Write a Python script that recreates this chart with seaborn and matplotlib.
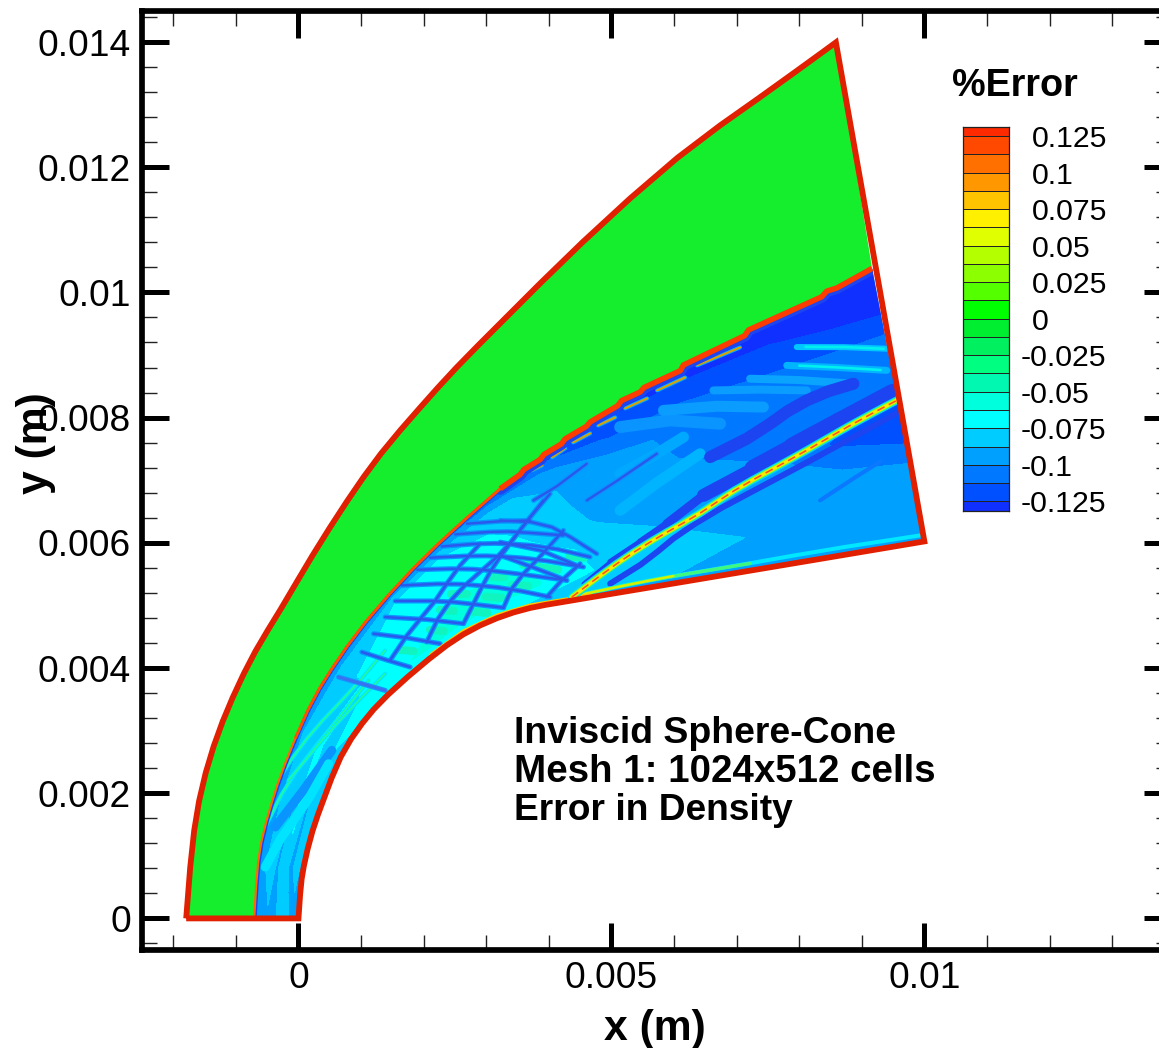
import numpy as np
import matplotlib
matplotlib.use("Agg")
import matplotlib.pyplot as plt
import seaborn as sns
from matplotlib.colors import ListedColormap, BoundaryNorm
from matplotlib.patches import Polygon
from matplotlib.path import Path
from matplotlib.ticker import MultipleLocator

# ---- data (all coordinates in mm; the axes are in m) ----
OUTER_X = [-1.794,-1.730,-1.602,-1.363,-1.059,-0.692,-0.292,0.219,0.778,1.305,1.944,2.503,3.222,4.500,6.097,7.375,8.5,8.586]
OUTER_Y = [0,0.927,1.885,2.764,3.530,4.281,4.920,5.799,6.677,7.428,8.163,8.786,9.505,10.783,12.220,13.115,13.93,13.994]
BODY_X = [0,0.027,0.075,0.219,0.395,0.666,1.017,1.385,2.104,2.631,3.174,3.701,4.2,4.66,5.5,7.0,9.9,10.0]
BODY_Y = [0,0.447,0.815,1.406,1.885,2.604,3.131,3.546,4.169,4.553,4.808,4.968,5.05,5.128,5.268,5.519,6.005,6.022]
SHOCK_NOSE_X = [-0.708,-0.676,-0.612,-0.420,-0.244,0.155,0.506,1.034,1.832,2.631,3.222]
SHOCK_NOSE_Y = [0,0.607,1.198,1.885,2.412,3.371,3.962,4.712,5.607,6.358,6.863]
SHOCK_STEP_X = [3.54,3.60,3.86,3.92,4.20,4.26,4.60,4.66,5.10,5.16,5.46,5.52,6.10,6.15,7.13,7.19,8.36,8.44,8.60,9.164]
SHOCK_STEP_Y = [7.09,7.17,7.33,7.41,7.58,7.66,7.86,7.93,8.19,8.27,8.41,8.48,8.75,8.84,9.31,9.40,9.93,10.02,10.07,10.383]

# mesh stations for the error field behind the shock: body point and shock point
ST_BODY_X = [0,0.075,0.395,0.666,1.385,2.104,2.631,3.174,3.701,4.66,6.0,7.5,8.8,10.0]
ST_BODY_Y = [0,0.815,1.885,2.604,3.546,4.169,4.553,4.808,4.968,5.128,5.352,5.60,5.817,6.022]
ST_SHOCK_X = [-0.708,-0.654,-0.42,-0.05,0.6,1.45,2.2,3.0,3.86,5.03,6.13,7.5,8.445,9.164]
ST_SHOCK_Y = [0,0.815,1.885,3.05,4.1,5.18,5.95,6.66,7.364,8.163,8.834,9.53,10.0,10.383]
ERROR_FIELD = [
 [-0.090,-0.090,-0.085,-0.085,-0.090,-0.090,-0.095,-0.100],
 [-0.090,-0.085,-0.090,-0.080,-0.090,-0.080,-0.090,-0.100],
 [-0.090,-0.080,-0.090,-0.070,-0.090,-0.075,-0.090,-0.105],
 [-0.080,-0.075,-0.085,-0.070,-0.085,-0.080,-0.090,-0.105],
 [-0.075,-0.070,-0.070,-0.075,-0.075,-0.080,-0.085,-0.100],
 [-0.070,-0.060,-0.065,-0.065,-0.070,-0.070,-0.075,-0.100],
 [-0.070,-0.060,-0.060,-0.065,-0.070,-0.070,-0.075,-0.105],
 [-0.075,-0.060,-0.060,-0.065,-0.070,-0.075,-0.080,-0.110],
 [-0.080,-0.060,-0.065,-0.075,-0.080,-0.085,-0.095,-0.120],
 [-0.090,-0.075,-0.080,-0.090,-0.095,-0.095,-0.115,-0.130],
 [-0.090,-0.080,-0.090,-0.095,-0.100,-0.103,-0.115,-0.135],
 [-0.090,-0.090,-0.095,-0.100,-0.103,-0.105,-0.120,-0.135],
 [-0.090,-0.095,-0.095,-0.115,-0.105,-0.105,-0.125,-0.135],
 [-0.095,-0.095,-0.100,-0.125,-0.105,-0.105,-0.130,-0.135],
]
T_LEVELS = [0, 1/7, 2/7, 3/7, 4/7, 5/7, 6/7, 1]

# traced dark wave bands of the cross-hatch
HATCH = [
 ([2.689,3.275,3.701],[6.305,6.358,6.358]),
 ([2.503,3.168,3.541,4.233],[6.135,6.188,6.172,6.119]),
 ([2.290,2.902,3.381,4.074,4.659],[5.943,5.996,5.986,5.932,5.773]),
 ([2.103,2.742,3.275,3.914,4.553],[5.762,5.799,5.783,5.730,5.613]),
 ([1.901,2.529,3.062,3.701,4.287],[5.570,5.597,5.560,5.480,5.400]),
 ([1.651,2.316,2.902,3.488,4.020],[5.320,5.357,5.320,5.251,5.134]),
 ([1.544,2.210,2.742,3.275],[5.070,5.080,5.027,4.963]),
 ([1.385,2.103,2.636],[4.814,4.787,4.708]),
 ([1.198,1.731,2.263],[4.548,4.495,4.388]),
 ([1.012,1.411,1.784],[4.255,4.122,4.015]),
 ([3.222,3.808,4.287,4.766],[6.357,6.357,6.144,5.825]),
 ([3.222,3.914,4.447],[6.011,5.931,5.639]),
 ([3.222,3.754,4.287],[5.799,5.612,5.399]),
 ([3.382,3.914],[5.266,5.159]),
 ([3.967,4.180,4.500],[5.134,5.400,5.666]),
 ([3.275,3.381,3.807,4.020,4.233],[4.963,5.293,5.719,5.959,6.199]),
 ([2.636,2.796,3.062,3.381,3.648,4.020],[4.708,5.027,5.560,5.986,6.358,6.784]),
 ([2.050,2.210,2.636,3.222,3.541,3.914],[4.415,4.814,5.320,5.799,6.199,6.678]),
 ([1.464,1.731,2.210,2.529,2.902],[4.122,4.548,5.080,5.613,5.986]),
 ([3.754,4.074,4.606],[6.677,6.837,7.263]),
 ([4.606,5.032,5.725],[6.677,6.943,7.423]),
 ([4.234,4.606],[6.304,6.464]),
 ([5.086,5.352],[6.304,6.464]),
]
# fainter dashes in the nose region
NOSE_DASHES = [
 ([0.693,1.066],[3.482,3.243]), ([0.906,1.545],[4.200,4.122]),
 ([0.640,1.013,1.385],[3.855,3.749,3.642]), ([0.240,0.400],[3.190,3.083]),
 ([0.000,0.161],[2.900,2.790]),
]
# pale green streaks and cyan / blue sweeps in the nose region
NOSE_GREEN = [
 ([-0.398,-0.106,0.374,0.959,1.385],[2.098,2.577,3.163,3.749,4.281]),
 ([-0.532,-0.265,0.214,0.747,1.119],[1.459,2.045,2.684,3.323,3.802]),
 ([-0.159,0.320,0.906,1.385],[2.205,2.790,3.429,3.909]),
]
NOSE_CYAN_X = [-0.532,-0.265,0.107,0.480]
NOSE_CYAN_Y = [0.820,1.353,1.778,2.471]
NOSE_BLUE_X = [-0.372,0.054,0.533]
NOSE_BLUE_Y = [1.459,1.992,2.684]
# pale cells between the hatch bands
CELLS = [
 ([2.43,2.69],[5.19,5.19]), ([2.99,3.25],[5.14,5.12]), ([3.41,3.67],[5.33,5.31]),
 ([3.89,4.15],[5.60,5.57]), ([4.32,4.57],[5.78,5.76]), ([2.78,3.02],[4.90,4.88]),
 ([2.26,2.48],[4.93,4.91]), ([1.62,1.84],[4.29,4.27]), ([2.10,2.32],[4.61,4.59]),
 ([3.05,3.29],[5.46,5.45]), ([3.58,3.83],[5.65,5.63]),
]
SLIP_X = [4.367,4.819,5.352,5.884,6.417,6.949,7.588,8.121,8.760,9.505,9.57]
SLIP_Y = [5.133,5.479,5.852,6.171,6.464,6.837,7.183,7.476,7.849,8.248,8.28]
DARK_A_X = [4.553,4.979,5.458,5.884,6.470,7.269,7.908,8.653,9.505]
DARK_A_Y = [5.346,5.692,6.011,6.304,6.757,7.183,7.529,7.928,8.381]
DARK_A_W = [4,6,7,9,13,18,20,20]
DARK_UP_X = [6.577,7.269,7.801,8.440,8.866]
DARK_UP_Y = [7.369,7.689,8.115,8.434,8.541]
DARK_B_X = [4.979,5.565,5.938,6.736,7.801,9.558]
DARK_B_Y = [5.346,5.692,6.050,6.560,7.100,8.070]
WALL_X = [4.500,5.246,5.990,7.216,8.542,9.931]
WALL_Y = [5.170,5.330,5.470,5.671,5.911,6.118]
# streaks above the slip line: (x, y, width in pixels, colour)
LENSES = [
 ([5.139,5.938,6.736],[7.849,8.035,7.902],12,"#0a94ff"),
 ([5.831,6.736,7.428],[8.115,8.221,8.168],11,"#0a9cff"),
 ([6.630,7.375,8.121],[8.434,8.461,8.434],8,"#0a9cff"),
 ([7.216,7.908,8.866],[8.621,8.621,8.541],8,"#0aa4ff"),
 ([6.044,6.736],[7.636,7.689],10,"#0a9cff"),
 ([5.139,5.671,6.151],[7.103,7.369,7.689],11,"#00a8ff"),
 ([5.139,5.671,6.417],[6.517,6.943,7.423],11,"#00b4ff"),
 ([5.032,5.458],[6.784,7.316],8,"#00c0ff"),
 ([4.926,5.352],[6.358,6.571],7,"#00c8ff"),
 ([7.801,8.600,9.399],[8.834,8.807,8.754],7,"#00b4ff"),
 ([7.961,8.760,9.399],[9.127,9.137,9.100],6,"#00c8ff"),
 ([7.269,8.227],[6.038,6.624],4,"#00c0ff"),
 ([7.908,8.866],[5.985,6.464],4,"#00c0ff"),
]
LENS_CORES = [
 ([8.0,8.600,9.3],[8.83,8.807,8.76]),
 ([8.1,8.760,9.35],[9.13,9.137,9.10]),
]
BLUE_STREAK_X = [8.334,8.973]
BLUE_STREAK_Y = [6.677,7.103]
SHOCK_DASHES = [
 ([6.368,7.055],[8.834,9.121]), ([5.730,6.177],[8.434,8.642]), ([5.219,5.570],[8.147,8.307]),
 ([4.787,5.059],[7.875,8.003]), ([4.388,4.660],[7.604,7.748]), ([4.052,4.260],[7.364,7.508]),
 ([3.731,3.892],[7.157,7.236]),
]

LEVELS = [-0.125,-0.1125,-0.1,-0.0875,-0.075,-0.0625,-0.05,-0.0375,-0.025,-0.0125,0,
          0.0125,0.025,0.0375,0.05,0.0625,0.075,0.0875,0.1,0.1125,0.125]
BAND_COLORS = ["#1030ff","#0050ff","#0078ff","#00a0ff","#00ccff","#00ffff","#00ffdc","#00f8b0",
               "#00ff80","#00f060","#00ee30","#00ff00","#54ff00","#8cff00","#b4ff00","#e0ff00",
               "#fff000","#ffc400","#ff9800","#ff7000","#ff4800","#ff2a00"]
LEGEND_LABELS = ["0.125","0.1","0.075","0.05","0.025","0","-0.025","-0.05","-0.075","-0.1","-0.125"]
LEGEND_VALUES = [0.125,0.1,0.075,0.05,0.025,0,-0.025,-0.05,-0.075,-0.1,-0.125]
X_TICKS = [0,0.005,0.01]
X_LABELS = ["0","0.005","0.01"]
Y_TICKS = [0,0.002,0.004,0.006,0.008,0.01,0.012,0.014]
Y_LABELS = ["0","0.002","0.004","0.006","0.008","0.01","0.012","0.014"]
NOTE_LINES = ["Inviscid Sphere-Cone","Mesh 1: 1024x512 cells","Error in Density"]
NOTE_Y = [2.955,2.332,1.725]
NOTE_SIZE = [26.9,27.7,26.7]

RED = "#e02000"
GREEN = "#14ee2c"
MM = 1e-3
PX = 72/100  # stroke widths below are given in output pixels

sns.set_theme(style="ticks")
plt.rcParams['font.family'] = ['Liberation Sans', 'DejaVu Sans']

fig = plt.figure(figsize=(11.59,10.48), dpi=100)
W, H = 1159, 1048
ax = fig.add_axes([142/W, (H-949.7)/H, 1029/W, 939/H])
ax.set_xlim(-0.0025, 0.01394)
ax.set_ylim(-0.0005, 0.0145)

cmap = ListedColormap(BAND_COLORS[1:-1])
cmap.set_under(BAND_COLORS[0]); cmap.set_over(BAND_COLORS[-1])
norm = BoundaryNorm(LEVELS, cmap.N)


def curved(xs, ys):
    """Let matplotlib round a traced polyline: its points become quadratic Bezier controls."""
    p = np.column_stack([xs, ys])
    verts, codes = [p[0]], [Path.MOVETO]
    for i in range(1, len(p)-1):
        end = p[i+1] if i == len(p)-2 else (p[i]+p[i+1])/2
        verts += [p[i], end]
        codes += [Path.CURVE3, Path.CURVE3]
    poly = Path(verts, codes).to_polygons(closed_only=False)[0]
    return list(poly[:, 0]), list(poly[:, 1])


def stroke(xs, ys, color, px, clip=None, **kw):
    sns.lineplot(x=np.asarray(xs)*MM, y=np.asarray(ys)*MM, sort=False, estimator=None, color=color,
                 linewidth=px*PX, legend=False, ax=ax, **kw)
    if clip is not None:
        ax.lines[-1].set_clip_path(clip)


def soft(xs, ys, color, px, clip=None, **kw):
    stroke(*curved(xs, ys), color, px, clip, **kw)


outer_x, outer_y = curved(OUTER_X, OUTER_Y)
body_x, body_y = curved(BODY_X, BODY_Y)
nose_x, nose_y = curved(SHOCK_NOSE_X, SHOCK_NOSE_Y)
shock_x = nose_x + SHOCK_STEP_X
shock_y = nose_y + SHOCK_STEP_Y

# post-shock region
blue_xy = np.column_stack([body_x+shock_x[::-1], body_y+shock_y[::-1]])*MM
blue_patch = Polygon(blue_xy, closed=True, fc="#0a8cff", ec="none", zorder=1)
ax.add_patch(blue_patch)

t = np.asarray(T_LEVELS)[None,:]
bx, by = np.asarray(ST_BODY_X)[:,None], np.asarray(ST_BODY_Y)[:,None]
sx, sy = np.asarray(ST_SHOCK_X)[:,None], np.asarray(ST_SHOCK_Y)[:,None]
MX, MY = (bx+(sx-bx)*t)*MM, (by+(sy-by)*t)*MM
cs = ax.contourf(MX, MY, np.asarray(ERROR_FIELD), levels=LEVELS, cmap=cmap, norm=norm, extend='both', zorder=1.1)
cs.set_clip_path(blue_patch)

c = blue_patch
soft(NOSE_BLUE_X, NOSE_BLUE_Y, "#0a94ff", 9, c)
soft(NOSE_CYAN_X, NOSE_CYAN_Y, "#00e4ff", 9, c)
for xs, ys in NOSE_GREEN:
    soft(xs, ys, "#00e8ff", 4, c)
    soft(xs, ys, "#20f8a0", 1.8, c)
for xs, ys in CELLS:
    stroke(xs, ys, "#10f4c0", 8, c)
for xs, ys in LENSES and [(l[0], l[1]) for l in LENSES[:0]]:
    pass
for xs, ys, w, col in LENSES:
    soft(xs, ys, col, w, c)
for xs, ys in LENS_CORES:
    soft(xs, ys, "#00f0f0", 2.6, c)
for xs, ys in HATCH:
    soft(xs, ys, "#0a94ff", 5, c)
for xs, ys in NOSE_DASHES:
    soft(xs, ys, "#1a90ff", 5, c)
for xs, ys in HATCH:
    soft(xs, ys, "#2a58ec", 2.4, c)
for xs, ys in NOSE_DASHES:
    soft(xs, ys, "#3a70f0", 2.6, c)
soft(BLUE_STREAK_X+[9.3], BLUE_STREAK_Y+[7.3], "#0a78ff", 4, c)

for i, w in enumerate(DARK_A_W):
    stroke(DARK_A_X[i:i+2], DARK_A_Y[i:i+2], "#1c44f0", w, c)
soft(DARK_UP_X, DARK_UP_Y, "#1c44f0", 12, c)
soft(DARK_B_X, DARK_B_Y, "#1c44f0", 6, c)

soft(WALL_X, WALL_Y, "#00e8ff", 4, c)
soft(WALL_X[:4], WALL_Y[:4], "#40f880", 3.4, c)
soft(WALL_X[:3], WALL_Y[:3], "#d8f000", 2.4, c)
stroke(BODY_X[8:14], [v+0.04 for v in BODY_Y[8:14]], "#ffc800", 3, c)

soft(SLIP_X, SLIP_Y, "#00d8ff", 8, c)
soft(SLIP_X, SLIP_Y, "#70ff30", 5.6, c)
soft(SLIP_X, SLIP_Y, "#ffe800", 3.6, c)
soft(SLIP_X, SLIP_Y, "#ff5020", 1.6, c, linestyle=(0,(5,3)))

for xs, ys in SHOCK_DASHES:
    stroke(xs, ys, "#00b0ff", 4, c)
    stroke(xs, ys, "#e0a000", 2, c)

# blue lining just behind the shock, half of it is hidden by the free stream
n_nose = len(nose_x)
stroke(shock_x[:n_nose], shock_y[:n_nose], "#1c44f0", 5, c)
stroke(shock_x[n_nose-1:], shock_y[n_nose-1:], "#1c44f0", 12, c)

# free stream
green_xy = np.column_stack([outer_x+shock_x[:0:-1]+[shock_x[0]], outer_y+shock_y[:0:-1]+[shock_y[0]]])*MM
ax.add_patch(Polygon(green_xy, closed=True, fc=GREEN, ec="none", zorder=2))

# shock front
cut = n_nose//2
stroke(shock_x[:cut], shock_y[:cut], "#ff6a00", 2.2)
stroke(shock_x[cut-1:n_nose], shock_y[cut-1:n_nose], "#ff5000", 3)
stroke(shock_x[n_nose-1:], shock_y[n_nose-1:], "#ff3c00", 5.5, solid_capstyle="butt", solid_joinstyle="round")

# domain outline
stroke(outer_x+body_x[::-1]+[outer_x[0]], outer_y+body_y[::-1]+[outer_y[0]], RED, 5.8,
       solid_joinstyle="miter", solid_capstyle="butt")

# axes furniture
ax.set_xticks(X_TICKS); ax.set_xticklabels(X_LABELS)
ax.set_yticks(Y_TICKS); ax.set_yticklabels(Y_LABELS)
ax.xaxis.set_minor_locator(MultipleLocator(0.001))
ax.yaxis.set_minor_locator(MultipleLocator(0.0004))
ax.tick_params(which='major', direction='in', top=True, right=True, length=19.4, width=3.6,
               labelsize=26.7, pad=8, color='black', labelcolor='black')
ax.tick_params(which='minor', direction='in', top=True, right=True, length=10.8, width=1.0, color='#222222')
for s in ax.spines.values():
    s.set_linewidth(4.1); s.set_color('black')
ax.set_xlabel("x (m)", fontsize=30.7, fontweight='bold', va='center', color='black')
ax.xaxis.set_label_coords(0.4985, -0.0845)
ax.set_ylabel("y (m)", fontsize=30.7, fontweight='bold', va='center', color='black')
ax.yaxis.set_label_coords(-0.103, 0.5396)
ax.grid(False)

for s, y, fs in zip(NOTE_LINES, NOTE_Y, NOTE_SIZE):
    ax.text(3.446*MM, y*MM, s, fontsize=fs, fontweight='bold', va='center', ha='left', color='black')
ax.text(10.44*MM, 13.29*MM, "%Error", fontsize=27.2, fontweight='bold', va='center', ha='left', color='black')

# contour legend
lax = fig.add_axes([962.7/W, (H-510.7)/H, 46/W, 384/H])
edges = [-0.1314]+LEVELS+[0.1314]
mids = [[(a+b)/2] for a, b in zip(edges[:-1], edges[1:])]
lax.pcolormesh([0,1], edges, mids, cmap=cmap, norm=norm, edgecolors='#222222', linewidth=0.6)
lax.set_xlim(0,1); lax.set_ylim(edges[0], edges[-1])
lax.set_xticks([]); lax.set_yticks([])
for s in lax.spines.values():
    s.set_linewidth(0.9); s.set_color('#222222')
trans = lax.get_yaxis_transform()
for lab, v in zip(LEGEND_LABELS, LEGEND_VALUES):
    xpos = (1021-962.7)/46 if lab.startswith('-') else (1032-962.7)/46
    lax.text(xpos, v-0.0021, lab, transform=trans, fontsize=21.8, va='center', ha='left', color='black', clip_on=False)

fig.savefig("out.png", dpi=100)
